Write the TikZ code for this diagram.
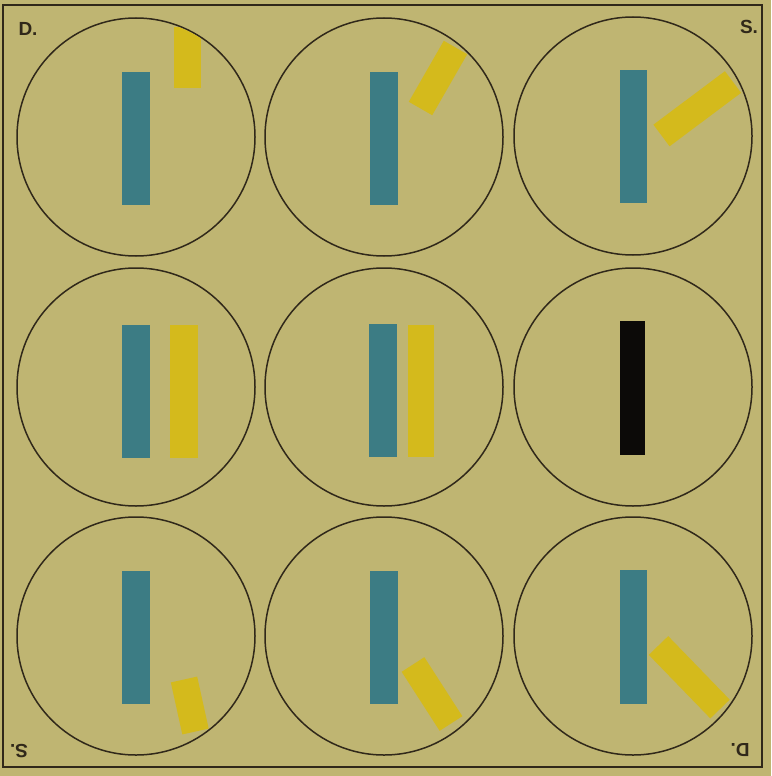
\documentclass[tikz,border=0pt]{standalone}
\usepackage{fontspec}
\setmainfont{Liberation Sans}
\usepackage{tikz}
\usetikzlibrary{positioning}

\definecolor{papier}{RGB}{191,181,114}
\definecolor{encre}{RGB}{48,40,26}
\definecolor{bleu}{RGB}{60,124,132}
\definecolor{jaune}{RGB}{212,186,28}
\definecolor{noir}{RGB}{12,10,8}

\tikzset{
    disque/.style={circle, draw=encre, line width=1.5pt, minimum size=238pt, inner sep=0pt},
    barrebleue/.style={fill=bleu},
    barrejaune/.style={draw=jaune, line width=27pt, line cap=butt},
    lettre/.style={inner sep=0pt, text=encre, font=\bfseries\fontsize{19}{19}\selectfont}
}

\begin{document}
\begin{tikzpicture}[x=1pt, y=-1pt]

% Fond et cadre

\fill[papier] (0,0) rectangle (771,776);
\useasboundingbox (0,0) rectangle (771,776);

\draw[
    line width=1.6pt,
    encre
] (3,5) rectangle (762,767);


% Disques

\node[disque] (c1) at (136,137) {};
\node[disque] (c2) at (384,137) {};
\node[disque] (c3) at (633,136) {};
\node[disque] (c4) at (136,387) {};
\node[disque] (c5) at (384,387) {};
\node[disque] (c6) at (633,387) {};
\node[disque] (c7) at (136,636) {};
\node[disque] (c8) at (384,636) {};
\node[disque] (c9) at (633,636) {};


% Barres bleues

\fill[barrebleue] (122,72) rectangle (150,205);
\fill[barrebleue] (370,72) rectangle (398,205);
\fill[barrebleue] (620,70) rectangle (647,203);
\fill[barrebleue] (122,325) rectangle (150,458);
\fill[barrebleue] (369,324) rectangle (397,457);
\fill[barrebleue] (122,571) rectangle (150,704);
\fill[barrebleue] (370,571) rectangle (398,704);
\fill[barrebleue] (620,570) rectangle (647,704);

% Barre noire

\fill[noir] (620,321) rectangle (645,455);


% Barres jaunes

\begin{scope}
    \clip (c1.center) circle (118);
    \draw[barrejaune] (187.5,88) -- (187.5,27);
\end{scope}

\draw[barrejaune] (420.5,108.5) -- (455.5,47.5);
\draw[barrejaune] (661.5,135.5) -- (733,82);

\fill[jaune] (170,325) rectangle (198,458);
\fill[jaune] (408,325) rectangle (434,457);

\draw[barrejaune] (184,679.5) -- (195.5,731.5);
\draw[barrejaune] (413,664.5) -- (451,723.5);
\draw[barrejaune] (658.5,645.5) -- (720,709);


% Lettres

\node[lettre] (hautD) at (28,29) {D.};
\node[lettre] (hautS) at (749,27) {S.};
\node[lettre, rotate=180] (basS) at (19,751) {S.};
\node[lettre, rotate=180] (basD) at (740,750) {D.};

\end{tikzpicture}
\end{document}
